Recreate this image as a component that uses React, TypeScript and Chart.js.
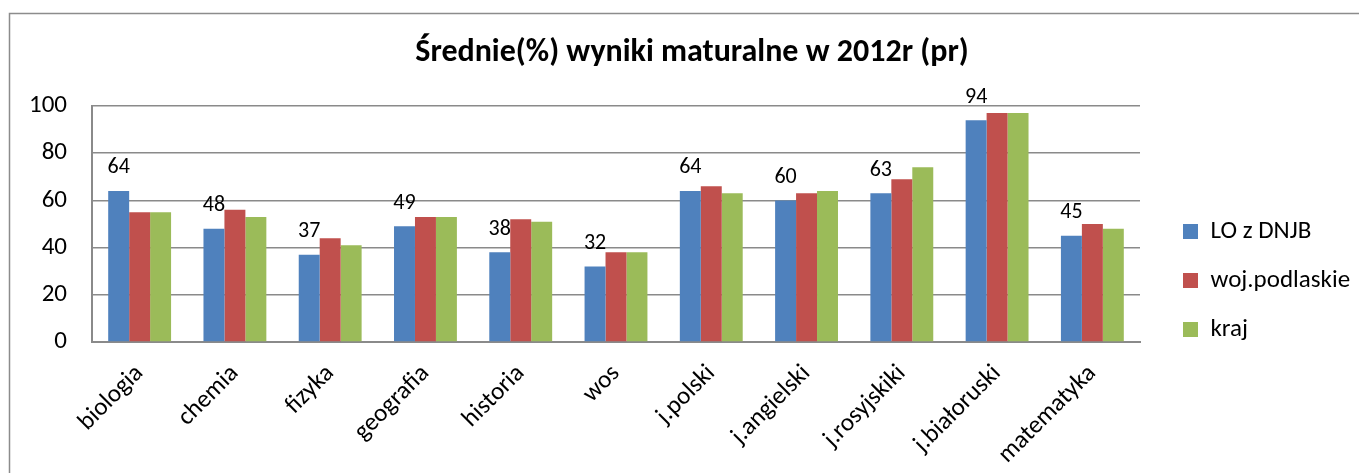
import React, { useEffect, useRef } from "react";
import { Chart, registerables } from "chart.js";

Chart.register(...registerables);

// Subjects on the category axis
const categories = [
  "biologia",
  "chemia",
  "fizyka",
  "geografia",
  "historia",
  "wos",
  "j.polski",
  "j.angielski",
  "j.rosyjskiki",
  "j.białoruski",
  "matematyka",
];

// Average results (%) per subject
const loDnjb = [64, 48, 37, 49, 38, 32, 64, 60, 63, 94, 45];
const wojPodlaskie = [55, 56, 44, 53, 52, 38, 66, 63, 69, 97, 50];
const kraj = [55, 53, 41, 53, 51, 38, 63, 64, 74, 97, 48];

const seriesNames = ["LO z DNJB", "woj.podlaskie", "kraj"];
const seriesColors = ["#4F81BD", "#C0504D", "#9BBB59"];

const yMin = 0;
const yMax = 100;
const yStep = 20;

const chartTitle = "Średnie(%) wyniki maturalne w 2012r (pr)";

const FONT = "Carlito, Lato, sans-serif";
const GRID = "#8a8a8a";

export default function App() {
  const canvasRef = useRef<HTMLCanvasElement | null>(null);

  useEffect(() => {
    document.body.style.margin = "0";
    const canvas = canvasRef.current;
    if (!canvas) return;

    // Outer chart frame (only its top and left edges fall inside the canvas)
    const framePlugin = {
      id: "frame",
      beforeDraw(chart: any) {
        const c = chart.ctx;
        c.save();
        c.strokeStyle = "#8c8c8c";
        c.lineWidth = 1.5;
        c.strokeRect(9.5, 13.5, chart.width + 100, chart.height + 100);
        c.restore();
      },
    };

    // Value labels above the first series' bars
    const valueLabelPlugin = {
      id: "valueLabels",
      afterDatasetsDraw(chart: any) {
        const c = chart.ctx;
        const meta = chart.getDatasetMeta(0);
        const values = chart.data.datasets[0].data as number[];
        c.save();
        c.font = `22px ${FONT}`;
        c.fillStyle = "#000";
        c.textAlign = "center";
        c.textBaseline = "middle";
        meta.data.forEach((bar: any, i: number) => {
          c.fillText(String(values[i]), bar.x, bar.y - 23);
        });
        c.restore();
      },
    };

    const datasets = [loDnjb, wojPodlaskie, kraj].map((data, i) => ({
      label: seriesNames[i],
      data,
      backgroundColor: seriesColors[i],
      borderWidth: 0,
      categoryPercentage: 0.66,
      barPercentage: 1.0,
    }));

    const chart = new Chart(canvas, {
      type: "bar",
      data: { labels: categories, datasets },
      plugins: [framePlugin, valueLabelPlugin],
      options: {
        responsive: false,
        animation: false,
        layout: { padding: { left: 25, right: 0, top: 0, bottom: 0 } },
        plugins: {
          tooltip: { enabled: false },
          title: {
            display: true,
            text: chartTitle,
            color: "#000",
            font: { family: FONT, size: 32, weight: "bold" },
            padding: { top: 34, bottom: 33.6 },
          },
          legend: {
            display: true,
            position: "right",
            align: "center",
            maxWidth: 200,
            // empty spacer title pushes the legend rows down
            title: {
              display: true,
              text: "",
              font: { family: FONT, size: 1 },
              padding: { top: 86.8, bottom: 0 },
            },
            labels: {
              color: "#000",
              font: { family: FONT, size: 25 },
              boxWidth: 15,
              boxHeight: 15,
              padding: 24,
            },
          },
        },
        scales: {
          x: {
            grid: { display: false },
            border: { display: true, color: GRID, width: 2 },
            ticks: {
              color: "#000",
              font: { family: FONT, size: 25 },
              maxRotation: 45,
              minRotation: 45,
              padding: 9,
              autoSkip: false,
            },
            afterFit(scale: any) {
              scale.height = 131;
            },
          },
          y: {
            min: yMin,
            max: yMax,
            ticks: {
              stepSize: yStep,
              color: "#000",
              font: { family: FONT, size: 25 },
              padding: 25,
            },
            grid: { color: GRID, lineWidth: 1.5, drawTicks: false },
            border: { display: true, color: GRID, width: 2 },
            afterFit(scale: any) {
              scale.width = 67;
            },
          },
          gap: {
            type: "linear",
            position: "right",
            display: true,
            grid: { display: false },
            border: { display: false },
            ticks: { display: false },
            afterFit(scale: any) {
              scale.width = 19;
            },
          },
        },
      },
    });

    return () => chart.destroy();
  }, []);

  return (
    <div style={{ width: 1359, height: 473 }}>
      <canvas ref={canvasRef} width={1359} height={473} style={{ display: "block" }} />
    </div>
  );
}
